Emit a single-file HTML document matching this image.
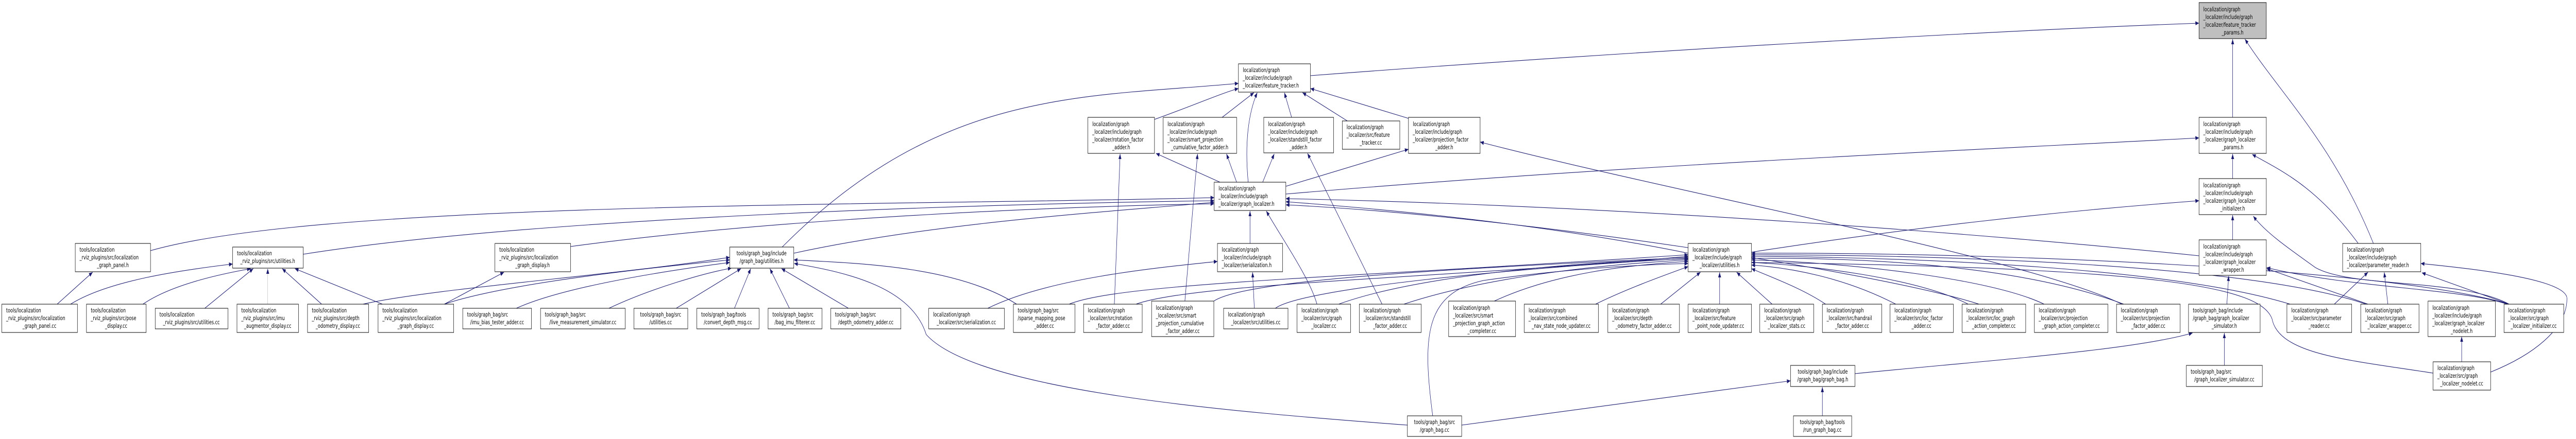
<!DOCTYPE html>
<html><head><meta charset="utf-8"><style>
html,body{margin:0;padding:0;background:#fff;overflow:hidden;}
svg{display:block;width:100vw;height:100vh;}
text{font-family:"DejaVu Sans","Liberation Sans",sans-serif;font-size:11.5px;fill:#000;}
.b{fill:#fff;stroke:#000;stroke-width:1;}
.g{fill:#bfbfbf;stroke:#000;stroke-width:1;}
.e{fill:none;stroke:#191970;stroke-width:1.1;}
.eg{fill:none;stroke:#bfbfbf;stroke-width:1;}
</style></head><body>
<svg viewBox="0 0 7120 853" preserveAspectRatio="none" overflow="hidden" xmlns="http://www.w3.org/2000/svg">
<defs>
<marker id="a" markerUnits="userSpaceOnUse" markerWidth="11" markerHeight="8" refX="10" refY="4" orient="auto"><path d="M0,0 L10,4 L0,8 z" fill="#191970"/></marker>
</defs>
<g>
<path class="e" marker-end="url(#a)" d="M158,591 L256,529"/>
<path class="e" marker-end="url(#a)" d="M195,591 C300,545 500,525 643,513"/>
<path class="e" marker-end="url(#a)" d="M395,591 C480,550 630,530 693,522"/>
<path class="e" marker-end="url(#a)" d="M566,599 L700,522"/>
<path class="eg" marker-end="url(#a)" d="M740,591 L740,522"/>
<path class="e" marker-end="url(#a)" d="M889,591 L780,522"/>
<path class="e" marker-end="url(#a)" d="M1057,591 L815,522"/>
<path class="e" marker-end="url(#a)" d="M1228,591 L1393,529"/>
<path class="e" marker-end="url(#a)" d="M416,487 C900,390 2500,400 3356,384"/>
<path class="e" marker-end="url(#a)" d="M838,494 C1500,420 2800,395 3356,390"/>
<path class="e" marker-end="url(#a)" d="M1577,479 C2200,420 3000,400 3356,396"/>
<path class="e" marker-end="url(#a)" d="M1003,591 C1200,560 1700,535 2017,500"/>
<path class="e" marker-end="url(#a)" d="M1228,591 C1400,550 1800,520 2017,505"/>
<path class="e" marker-end="url(#a)" d="M1427,599 C1550,560 1800,530 2017,510"/>
<path class="e" marker-end="url(#a)" d="M1683,599 C1800,560 1950,530 2022,521"/>
<path class="e" marker-end="url(#a)" d="M1869,599 L2048,522"/>
<path class="e" marker-end="url(#a)" d="M2030,599 L2075,522"/>
<path class="e" marker-end="url(#a)" d="M2182,599 L2128,522"/>
<path class="e" marker-end="url(#a)" d="M2345,599 L2160,522"/>
<path class="e" marker-end="url(#a)" d="M2810,591 C2650,520 2400,512 2194,505"/>
<path class="e" marker-end="url(#a)" d="M2194,492 C2600,430 3100,410 3356,393"/>
<path class="e" marker-end="url(#a)" d="M2162,480 C2600,170 3000,190 3423,162"/>
<path class="e" marker-end="url(#a)" d="M3890,826 C3400,800 2700,760 2560,650 C2520,560 2350,530 2195,512"/>
<path class="e" marker-end="url(#a)" d="M2730,599 C2900,540 3200,520 3365,508"/>
<path class="e" marker-end="url(#a)" d="M2955,591 C3100,550 3700,540 4666,495"/>
<path class="e" marker-end="url(#a)" d="M3080,591 L3096,299"/>
<path class="e" marker-end="url(#a)" d="M3140,591 C3300,550 4000,540 4666,498"/>
<path class="e" marker-end="url(#a)" d="M3275,585 L3310,299"/>
<path class="e" marker-end="url(#a)" d="M3355,585 C3450,540 4100,520 4666,500"/>
<path class="e" marker-end="url(#a)" d="M3467,599 L3462,529"/>
<path class="e" marker-end="url(#a)" d="M3525,599 C3600,560 4200,520 4666,502"/>
<path class="e" marker-end="url(#a)" d="M3640,591 C3620,540 3540,460 3500,410"/>
<path class="e" marker-end="url(#a)" d="M3700,591 C3900,540 4300,510 4666,503"/>
<path class="e" marker-end="url(#a)" d="M3820,591 L3614,298"/>
<path class="e" marker-end="url(#a)" d="M3880,591 C4100,540 4400,515 4666,505"/>
<path class="e" marker-end="url(#a)" d="M4130,585 C4300,530 4500,515 4666,508"/>
<path class="e" marker-end="url(#a)" d="M3960,808 C3930,650 3940,570 4100,545 C4300,525 4500,515 4666,512"/>
<path class="e" marker-end="url(#a)" d="M4410,591 C4500,560 4600,535 4666,518"/>
<path class="e" marker-end="url(#a)" d="M4590,591 L4700,529"/>
<path class="e" marker-end="url(#a)" d="M4753,591 L4753,529"/>
<path class="e" marker-end="url(#a)" d="M4898,591 L4800,529"/>
<path class="e" marker-end="url(#a)" d="M5046,591 C4980,560 4900,540 4841,522"/>
<path class="e" marker-end="url(#a)" d="M5240,591 C5100,540 4950,520 4841,515"/>
<path class="e" marker-end="url(#a)" d="M5440,591 C5300,540 5000,515 4841,510"/>
<path class="e" marker-end="url(#a)" d="M5650,591 C5500,540 5100,510 4841,505"/>
<path class="e" marker-end="url(#a)" d="M5870,591 C5600,520 5200,500 4841,502"/>
<path class="e" marker-end="url(#a)" d="M5865,591 C5600,500 4600,370 4091,276"/>
<path class="e" marker-end="url(#a)" d="M6330,591 C6000,520 5300,500 4841,498"/>
<path class="e" marker-end="url(#a)" d="M6540,591 C6200,510 5300,495 4841,495"/>
<path class="e" marker-end="url(#a)" d="M6935,591 C6600,520 5500,490 4841,492"/>
<path class="e" marker-end="url(#a)" d="M6078,497 C5500,455 4500,400 3554,386"/>
<path class="e" marker-end="url(#a)" d="M4666,492 C4300,440 3900,410 3554,392"/>
<path class="e" marker-end="url(#a)" d="M5470,591 C5200,530 4200,420 3554,398"/>
<path class="e" marker-end="url(#a)" d="M3554,377 C4500,320 5500,290 6078,268"/>
<path class="e" marker-end="url(#a)" d="M4841,490 C5300,440 5700,410 6078,390"/>
<path class="e" marker-end="url(#a)" d="M3622,147 C4500,100 5500,60 6078,45"/>
<path class="e" marker-end="url(#a)" d="M3450,354 C3440,280 3450,220 3475,180"/>
<path class="e" marker-end="url(#a)" d="M3191,232 C3280,210 3380,180 3423,172"/>
<path class="e" marker-end="url(#a)" d="M3372,354 L3195,298"/>
<path class="e" marker-end="url(#a)" d="M3378,228 L3466,180"/>
<path class="e" marker-end="url(#a)" d="M3418,354 L3390,299"/>
<path class="e" marker-end="url(#a)" d="M3570,228 L3550,180"/>
<path class="e" marker-end="url(#a)" d="M3490,354 L3522,299"/>
<path class="e" marker-end="url(#a)" d="M3724,235 L3600,180"/>
<path class="e" marker-end="url(#a)" d="M3893,230 L3622,172"/>
<path class="e" marker-end="url(#a)" d="M3554,362 L3893,290"/>
<path class="e" marker-end="url(#a)" d="M3455,473 L3455,410"/>
<path class="e" marker-end="url(#a)" d="M6171,228 L6171,76"/>
<path class="e" marker-end="url(#a)" d="M6560,473 C6450,280 6300,180 6205,76"/>
<path class="e" marker-end="url(#a)" d="M6171,347 L6171,299"/>
<path class="e" marker-end="url(#a)" d="M6518,473 C6400,360 6300,330 6225,300"/>
<path class="e" marker-end="url(#a)" d="M6171,466 L6171,418"/>
<path class="e" marker-end="url(#a)" d="M6935,591 C6800,540 6500,560 6400,520 C6320,480 6260,450 6228,420"/>
<path class="e" marker-end="url(#a)" d="M6155,591 L6160,536"/>
<path class="e" marker-end="url(#a)" d="M6148,710 L6148,647"/>
<path class="e" marker-end="url(#a)" d="M6452,591 L6545,529"/>
<path class="e" marker-end="url(#a)" d="M6600,591 L6590,529"/>
<path class="e" marker-end="url(#a)" d="M6545,591 L6265,522"/>
<path class="e" marker-end="url(#a)" d="M6935,591 L6694,530"/>
<path class="e" marker-end="url(#a)" d="M6930,591 C6800,560 6500,560 6265,520"/>
<path class="e" marker-end="url(#a)" d="M6804,703 L6804,654"/>
<path class="e" marker-end="url(#a)" d="M6884,723 C7000,690 7095,640 7095,580 C7095,540 6800,520 6691,512"/>
<path class="e" marker-end="url(#a)" d="M6725,725 C6500,700 6300,690 6280,620 C6250,560 6000,520 4841,510"/>
<path class="e" marker-end="url(#a)" d="M5127,726 C5500,700 5900,680 6060,647"/>
<path class="e" marker-end="url(#a)" d="M4040,826 L4949,740"/>
<path class="e" marker-end="url(#a)" d="M5037,808 L5037,752"/>
</g>
<g>
<rect class="g" x="6078" y="5" width="186" height="70"/><text x="6090" y="22">localization/graph</text><text x="6090" y="37">_localizer/include/graph</text><text x="6090" y="52">_localizer/feature_tracker</text><text x="6171" y="67" text-anchor="middle">_params.h</text>
<rect class="b" x="3423" y="124" width="199" height="55"/><text x="3435" y="140">localization/graph</text><text x="3435" y="155">_localizer/include/graph</text><text x="3435" y="170">_localizer/feature_tracker.h</text>
<rect class="b" x="3007" y="228" width="184" height="70"/><text x="3019" y="245">localization/graph</text><text x="3019" y="260">_localizer/include/graph</text><text x="3019" y="275">_localizer/rotation_factor</text><text x="3099" y="290" text-anchor="middle">_adder.h</text>
<rect class="b" x="3215" y="228" width="203" height="70"/><text x="3227" y="245">localization/graph</text><text x="3227" y="260">_localizer/include/graph</text><text x="3227" y="275">_localizer/smart_projection</text><text x="3316" y="290" text-anchor="middle">_cumulative_factor_adder.h</text>
<rect class="b" x="3493" y="228" width="193" height="69"/><text x="3505" y="245">localization/graph</text><text x="3505" y="260">_localizer/include/graph</text><text x="3505" y="275">_localizer/standstill_factor</text><text x="3589" y="290" text-anchor="middle">_adder.h</text>
<rect class="b" x="3710" y="235" width="159" height="55"/><text x="3722" y="251">localization/graph</text><text x="3722" y="266">_localizer/src/feature</text><text x="3789" y="281" text-anchor="middle">_tracker.cc</text>
<rect class="b" x="3893" y="228" width="198" height="70"/><text x="3905" y="245">localization/graph</text><text x="3905" y="260">_localizer/include/graph</text><text x="3905" y="275">_localizer/projection_factor</text><text x="3992" y="290" text-anchor="middle">_adder.h</text>
<rect class="b" x="6078" y="228" width="186" height="70"/><text x="6090" y="245">localization/graph</text><text x="6090" y="260">_localizer/include/graph</text><text x="6090" y="275">_localizer/graph_localizer</text><text x="6171" y="290" text-anchor="middle">_params.h</text>
<rect class="b" x="3356" y="354" width="198" height="55"/><text x="3368" y="370">localization/graph</text><text x="3368" y="385">_localizer/include/graph</text><text x="3368" y="400">_localizer/graph_localizer.h</text>
<rect class="b" x="6078" y="347" width="186" height="70"/><text x="6090" y="364">localization/graph</text><text x="6090" y="379">_localizer/include/graph</text><text x="6090" y="394">_localizer/graph_localizer</text><text x="6171" y="409" text-anchor="middle">_initializer.h</text>
<rect class="b" x="208" y="473" width="208" height="55"/><text x="220" y="489">tools/localization</text><text x="220" y="504">_rviz_plugins/src/localization</text><text x="312" y="519" text-anchor="middle">_graph_panel.h</text>
<rect class="b" x="643" y="480" width="195" height="41"/><text x="655" y="496">tools/localization</text><text x="740" y="511" text-anchor="middle">_rviz_plugins/src/utilities.h</text>
<rect class="b" x="1368" y="473" width="209" height="55"/><text x="1380" y="489">tools/localization</text><text x="1380" y="504">_rviz_plugins/src/localization</text><text x="1472" y="519" text-anchor="middle">_graph_display.h</text>
<rect class="b" x="2017" y="480" width="177" height="41"/><text x="2105" y="496" text-anchor="middle">tools/graph_bag/include</text><text x="2105" y="511" text-anchor="middle">/graph_bag/utilities.h</text>
<rect class="b" x="3365" y="473" width="180" height="55"/><text x="3377" y="489">localization/graph</text><text x="3377" y="504">_localizer/include/graph</text><text x="3377" y="519">_localizer/serialization.h</text>
<rect class="b" x="4666" y="473" width="175" height="55"/><text x="4678" y="489">localization/graph</text><text x="4678" y="504">_localizer/include/graph</text><text x="4753" y="519" text-anchor="middle">_localizer/utilities.h</text>
<rect class="b" x="6078" y="466" width="186" height="69"/><text x="6090" y="483">localization/graph</text><text x="6090" y="498">_localizer/include/graph</text><text x="6090" y="513">_localizer/graph_localizer</text><text x="6171" y="528" text-anchor="middle">_wrapper.h</text>
<rect class="b" x="6475" y="473" width="216" height="55"/><text x="6487" y="489">localization/graph</text><text x="6487" y="504">_localizer/include/graph</text><text x="6487" y="519">_localizer/parameter_reader.h</text>
<rect class="b" x="5" y="591" width="209" height="55"/><text x="17" y="607">tools/localization</text><text x="17" y="622">_rviz_plugins/src/localization</text><text x="109" y="637" text-anchor="middle">_graph_panel.cc</text>
<rect class="b" x="239" y="591" width="165" height="55"/><text x="251" y="607">tools/localization</text><text x="251" y="622">_rviz_plugins/src/pose</text><text x="321" y="637" text-anchor="middle">_display.cc</text>
<rect class="b" x="429" y="599" width="201" height="40"/><text x="441" y="615">tools/localization</text><text x="529" y="630" text-anchor="middle">_rviz_plugins/src/utilities.cc</text>
<rect class="b" x="655" y="591" width="170" height="55"/><text x="667" y="607">tools/localization</text><text x="667" y="622">_rviz_plugins/src/imu</text><text x="740" y="637" text-anchor="middle">_augmentor_display.cc</text>
<rect class="b" x="850" y="591" width="169" height="55"/><text x="862" y="607">tools/localization</text><text x="862" y="622">_rviz_plugins/src/depth</text><text x="934" y="637" text-anchor="middle">_odometry_display.cc</text>
<rect class="b" x="1045" y="591" width="209" height="55"/><text x="1057" y="607">tools/localization</text><text x="1057" y="622">_rviz_plugins/src/localization</text><text x="1149" y="637" text-anchor="middle">_graph_display.cc</text>
<rect class="b" x="1279" y="599" width="190" height="40"/><text x="1291" y="615">tools/graph_bag/src</text><text x="1374" y="630" text-anchor="middle">/imu_bias_tester_adder.cc</text>
<rect class="b" x="1494" y="599" width="234" height="40"/><text x="1506" y="615">tools/graph_bag/src</text><text x="1611" y="630" text-anchor="middle">/live_measurement_simulator.cc</text>
<rect class="b" x="1752" y="599" width="149" height="40"/><text x="1826" y="615" text-anchor="middle">tools/graph_bag/src</text><text x="1826" y="630" text-anchor="middle">/utilities.cc</text>
<rect class="b" x="1926" y="599" width="172" height="40"/><text x="1938" y="615">tools/graph_bag/tools</text><text x="2012" y="630" text-anchor="middle">/convert_depth_msg.cc</text>
<rect class="b" x="2123" y="599" width="149" height="40"/><text x="2135" y="615">tools/graph_bag/src</text><text x="2197" y="630" text-anchor="middle">/bag_imu_filterer.cc</text>
<rect class="b" x="2296" y="599" width="194" height="40"/><text x="2308" y="615">tools/graph_bag/src</text><text x="2393" y="630" text-anchor="middle">/depth_odometry_adder.cc</text>
<rect class="b" x="2567" y="599" width="209" height="40"/><text x="2579" y="615">localization/graph</text><text x="2671" y="630" text-anchor="middle">_localizer/src/serialization.cc</text>
<rect class="b" x="2801" y="591" width="170" height="55"/><text x="2813" y="607">tools/graph_bag/src</text><text x="2813" y="622">/sparse_mapping_pose</text><text x="2886" y="637" text-anchor="middle">_adder.cc</text>
<rect class="b" x="2995" y="591" width="162" height="55"/><text x="3007" y="607">localization/graph</text><text x="3007" y="622">_localizer/src/rotation</text><text x="3076" y="637" text-anchor="middle">_factor_adder.cc</text>
<rect class="b" x="3183" y="585" width="172" height="69"/><text x="3195" y="602">localization/graph</text><text x="3195" y="617">_localizer/src/smart</text><text x="3195" y="632">_projection_cumulative</text><text x="3269" y="647" text-anchor="middle">_factor_adder.cc</text>
<rect class="b" x="3382" y="599" width="178" height="40"/><text x="3394" y="615">localization/graph</text><text x="3471" y="630" text-anchor="middle">_localizer/src/utilities.cc</text>
<rect class="b" x="3585" y="591" width="148" height="55"/><text x="3597" y="607">localization/graph</text><text x="3597" y="622">_localizer/src/graph</text><text x="3659" y="637" text-anchor="middle">_localizer.cc</text>
<rect class="b" x="3757" y="591" width="171" height="55"/><text x="3769" y="607">localization/graph</text><text x="3769" y="622">_localizer/src/standstill</text><text x="3842" y="637" text-anchor="middle">_factor_adder.cc</text>
<rect class="b" x="4004" y="585" width="185" height="69"/><text x="4016" y="602">localization/graph</text><text x="4016" y="617">_localizer/src/smart</text><text x="4016" y="632">_projection_graph_action</text><text x="4096" y="647" text-anchor="middle">_completer.cc</text>
<rect class="b" x="4213" y="591" width="205" height="55"/><text x="4225" y="607">localization/graph</text><text x="4225" y="622">_localizer/src/combined</text><text x="4315" y="637" text-anchor="middle">_nav_state_node_updater.cc</text>
<rect class="b" x="4444" y="591" width="198" height="55"/><text x="4456" y="607">localization/graph</text><text x="4456" y="622">_localizer/src/depth</text><text x="4543" y="637" text-anchor="middle">_odometry_factor_adder.cc</text>
<rect class="b" x="4666" y="591" width="175" height="55"/><text x="4678" y="607">localization/graph</text><text x="4678" y="622">_localizer/src/feature</text><text x="4753" y="637" text-anchor="middle">_point_node_updater.cc</text>
<rect class="b" x="4864" y="591" width="149" height="55"/><text x="4876" y="607">localization/graph</text><text x="4876" y="622">_localizer/src/graph</text><text x="4938" y="637" text-anchor="middle">_localizer_stats.cc</text>
<rect class="b" x="5037" y="591" width="164" height="55"/><text x="5049" y="607">localization/graph</text><text x="5049" y="622">_localizer/src/handrail</text><text x="5119" y="637" text-anchor="middle">_factor_adder.cc</text>
<rect class="b" x="5224" y="591" width="175" height="55"/><text x="5236" y="607">localization/graph</text><text x="5236" y="622">_localizer/src/loc_factor</text><text x="5311" y="637" text-anchor="middle">_adder.cc</text>
<rect class="b" x="5423" y="591" width="176" height="55"/><text x="5435" y="607">localization/graph</text><text x="5435" y="622">_localizer/src/loc_graph</text><text x="5511" y="637" text-anchor="middle">_action_completer.cc</text>
<rect class="b" x="5623" y="591" width="203" height="55"/><text x="5635" y="607">localization/graph</text><text x="5635" y="622">_localizer/src/projection</text><text x="5724" y="637" text-anchor="middle">_graph_action_completer.cc</text>
<rect class="b" x="5850" y="591" width="176" height="55"/><text x="5862" y="607">localization/graph</text><text x="5862" y="622">_localizer/src/projection</text><text x="5938" y="637" text-anchor="middle">_factor_adder.cc</text>
<rect class="b" x="6049" y="591" width="198" height="55"/><text x="6061" y="607">tools/graph_bag/include</text><text x="6061" y="622">/graph_bag/graph_localizer</text><text x="6148" y="637" text-anchor="middle">_simulator.h</text>
<rect class="b" x="6321" y="591" width="179" height="55"/><text x="6333" y="607">localization/graph</text><text x="6333" y="622">_localizer/src/parameter</text><text x="6410" y="637" text-anchor="middle">_reader.cc</text>
<rect class="b" x="6525" y="591" width="161" height="55"/><text x="6537" y="607">localization/graph</text><text x="6537" y="622">_localizer/src/graph</text><text x="6605" y="637" text-anchor="middle">_localizer_wrapper.cc</text>
<rect class="b" x="6711" y="585" width="186" height="69"/><text x="6723" y="602">localization/graph</text><text x="6723" y="617">_localizer/include/graph</text><text x="6723" y="632">_localizer/graph_localizer</text><text x="6804" y="647" text-anchor="middle">_nodelet.h</text>
<rect class="b" x="6921" y="591" width="165" height="55"/><text x="6933" y="607">localization/graph</text><text x="6933" y="622">_localizer/src/graph</text><text x="7003" y="637" text-anchor="middle">_localizer_initializer.cc</text>
<rect class="b" x="4949" y="710" width="178" height="41"/><text x="5038" y="726" text-anchor="middle">tools/graph_bag/include</text><text x="5038" y="741" text-anchor="middle">/graph_bag/graph_bag.h</text>
<rect class="b" x="6043" y="710" width="210" height="41"/><text x="6055" y="726">tools/graph_bag/src</text><text x="6148" y="741" text-anchor="middle">/graph_localizer_simulator.cc</text>
<rect class="b" x="6725" y="703" width="159" height="55"/><text x="6737" y="719">localization/graph</text><text x="6737" y="734">_localizer/src/graph</text><text x="6804" y="749" text-anchor="middle">_localizer_nodelet.cc</text>
<rect class="b" x="3890" y="808" width="150" height="40"/><text x="3965" y="824" text-anchor="middle">tools/graph_bag/src</text><text x="3965" y="839" text-anchor="middle">/graph_bag.cc</text>
<rect class="b" x="4957" y="808" width="161" height="40"/><text x="5037" y="824" text-anchor="middle">tools/graph_bag/tools</text><text x="5037" y="839" text-anchor="middle">/run_graph_bag.cc</text>
</g>
</svg>
</body></html>
